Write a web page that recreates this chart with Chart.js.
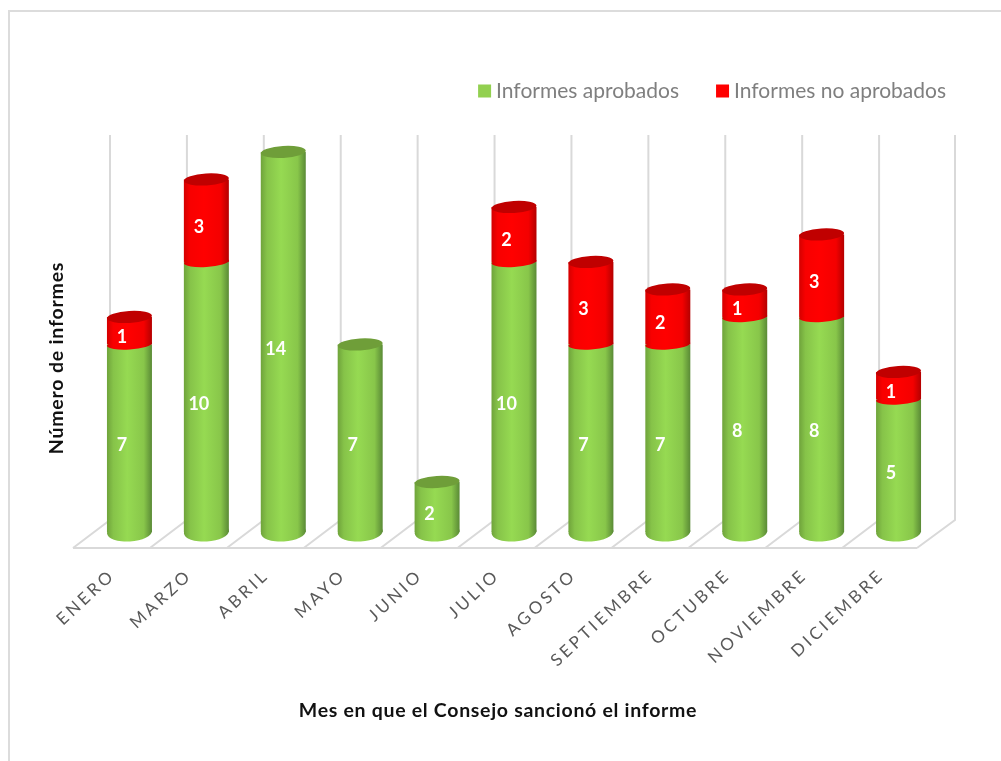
<!DOCTYPE html>
<html lang="es">
<head>
<meta charset="utf-8">
<title>Informes por mes</title>
<script src="https://cdn.jsdelivr.net/npm/chart.js@4/dist/chart.umd.js"></script>
<style>
  html, body { margin: 0; padding: 0; background: #fff; }
  canvas { display: block; }
</style>
</head>
<body>
<canvas id="chart" width="1001" height="761"></canvas>
<script>
const months = ["ENERO", "MARZO", "ABRIL", "MAYO", "JUNIO", "JULIO", "AGOSTO", "SEPTIEMBRE", "OCTUBRE", "NOVIEMBRE", "DICIEMBRE"];
const approved = [7, 10, 14, 7, 2, 10, 7, 7, 8, 8, 5];
const notApproved = [1, 3, 0, 0, 0, 2, 3, 2, 1, 3, 1];
const xTitle = "Mes en que el Consejo sancionó el informe";
const yTitle = "Número de informes";

const GREEN = {
  stops: ["#6fa33b", "#86c349", "#96da52", "#88c64a", "#5a8a36"],
  cap: "#6f9e39",
};
const RED = {
  stops: ["#d40000", "#f80000", "#ff0000", "#f40000", "#b40000"],
  cap: "#c00000",
};
const BAR_WIDTH = 45;

function barGradient(context, palette) {
  const { chart, dataIndex } = context;
  if (!chart.chartArea) {
    return palette.stops[2];
  }
  const center = chart.scales.x.getPixelForValue(dataIndex);
  const gradient = chart.ctx.createLinearGradient(center - BAR_WIDTH / 2, 0, center + BAR_WIDTH / 2, 0);
  gradient.addColorStop(0, palette.stops[0]);
  gradient.addColorStop(0.14, palette.stops[1]);
  gradient.addColorStop(0.45, palette.stops[2]);
  gradient.addColorStop(0.82, palette.stops[3]);
  gradient.addColorStop(1, palette.stops[4]);
  return gradient;
}

function ellipse(ctx, x, y, ry) {
  ctx.beginPath();
  ctx.ellipse(x, y, BAR_WIDTH / 2, ry, -0.06, 0, Math.PI * 2);
  ctx.fill();
}

const backdrop = {
  id: "backdrop",
  beforeDraw(chart) {
    const { ctx } = chart;
    ctx.save();
    ctx.fillStyle = "#dcdcdc";
    ctx.fillRect(8, 10, 993, 2);
    ctx.fillRect(8, 10, 2, 751);
    ctx.restore();
  },
  beforeDatasetsDraw(chart) {
    const { ctx, chartArea, scales } = chart;
    const zero = scales.y.getPixelForValue(0);
    const step = (chartArea.right - chartArea.left) / months.length;
    ctx.save();
    ctx.strokeStyle = "#d9d9d9";
    ctx.lineWidth = 2;
    ctx.beginPath();
    ctx.moveTo(chartArea.left - 18, zero + 11);
    ctx.lineTo(chartArea.right - 20, zero + 11);
    for (let i = 0; i <= months.length; i++) {
      const x = chartArea.left + step * i;
      ctx.moveTo(x + 19 - (i === months.length ? 1 : 0), 135);
      ctx.lineTo(x + 19 - (i === months.length ? 1 : 0), zero - 17);
      ctx.lineTo(x - 18 - (i === months.length ? 2 : 0), zero + 11);
    }
    ctx.stroke();
    ctx.restore();
  },
  afterLayout(chart) {
    // legend runs a little past the plot area on the right
    chart.legend.right += 51.5;
    const x = chart.scales.x;
    if (!x.spacedLabels) {
      const drawLabels = x.drawLabels;
      x.drawLabels = function (area) {
        chart.ctx.letterSpacing = "3.2px";
        drawLabels.call(this, area);
        chart.ctx.letterSpacing = "0px";
      };
      x.spacedLabels = true;
    }
  },
};

const cylinders = {
  id: "cylinders",
  afterDatasetsDraw(chart) {
    const { ctx, scales } = chart;
    const zero = scales.y.getPixelForValue(0);
    ctx.save();

    months.forEach((month, i) => {
      const green = chart.getDatasetMeta(0).data[i];
      const red = chart.getDatasetMeta(1).data[i];

      ctx.fillStyle = green.options.backgroundColor;
      ellipse(ctx, green.x, zero - 5, 9.5);

      if (notApproved[i] > 0) {
        ctx.fillStyle = red.options.backgroundColor;
        ellipse(ctx, red.x, green.y, 5);
        ctx.fillStyle = RED.cap;
        ellipse(ctx, red.x, red.y, 6);
      } else {
        ctx.fillStyle = GREEN.cap;
        ellipse(ctx, green.x, green.y, 6);
      }
    });

    ctx.fillStyle = "#fff";
    ctx.font = "bold 18px Lato";
    ctx.textAlign = "center";
    ctx.textBaseline = "middle";
    months.forEach((month, i) => {
      const green = chart.getDatasetMeta(0).data[i];
      const red = chart.getDatasetMeta(1).data[i];
      ctx.fillText(approved[i], green.x - 7.5, (green.y + zero) / 2 + 4.5);
      if (notApproved[i] > 0) {
        ctx.fillText(notApproved[i], red.x - 7.5, (red.y + green.y) / 2 + 6);
      }
    });

    ctx.fillStyle = "#111";
    ctx.font = "bold 19.5px Lato";
    ctx.letterSpacing = "0.7px";
    ctx.fillText(xTitle, 498, 711);
    ctx.letterSpacing = "0.8px";
    ctx.translate(57, 358);
    ctx.rotate(-Math.PI / 2);
    ctx.fillText(yTitle, 0, 0);
    ctx.letterSpacing = "0px";
    ctx.restore();
  },
};

const barClip = { top: 30, left: 0, right: 0, bottom: -5 };

new Chart(document.getElementById("chart"), {
  type: "bar",
  data: {
    labels: months,
    datasets: [
      {
        label: "Informes aprobados",
        data: approved,
        backgroundColor: (context) => barGradient(context, GREEN),
        clip: barClip,
      },
      {
        label: "Informes no aprobados",
        data: notApproved,
        backgroundColor: (context) => barGradient(context, RED),
        clip: barClip,
      },
    ],
  },
  options: {
    responsive: false,
    animation: false,
    layout: {
      padding: { left: 91, right: 64, top: 38, bottom: 0 },
    },
    datasets: {
      bar: {
        categoryPercentage: 1,
        barPercentage: 0.585,
        borderWidth: 0,
      },
    },
    plugins: {
      tooltip: { enabled: false },
      legend: {
        position: "top",
        align: "end",
        onClick: null,
        labels: {
          usePointStyle: true,
          boxWidth: 2,
          boxHeight: 13,
          padding: 42.5,
          color: "#7f7f7f",
          font: { family: "Lato", size: 21 },
          generateLabels(chart) {
            return chart.data.datasets.map((dataset, i) => ({
              text: dataset.label,
              fillStyle: i === 0 ? "#92d050" : "#ff0000",
              strokeStyle: "transparent",
              lineWidth: 0,
              pointStyle: "rect",
              fontColor: "#7f7f7f",
              datasetIndex: i,
            }));
          },
        },
      },
    },
    scales: {
      x: {
        stacked: true,
        afterFit(scale) {
          scale.height = 224;
        },
        border: { display: false },
        grid: { display: false },
        ticks: {
          autoSkip: false,
          minRotation: 43,
          maxRotation: 43,
          padding: 20,
          labelOffset: -17,
          color: "#595959",
          font: { family: "Lato", size: 17 },
        },
      },
      y: {
        display: false,
        stacked: true,
        min: 0,
        max: 15.47,
      },
    },
  },
  plugins: [backdrop, cylinders],
});
</script>
</body>
</html>
